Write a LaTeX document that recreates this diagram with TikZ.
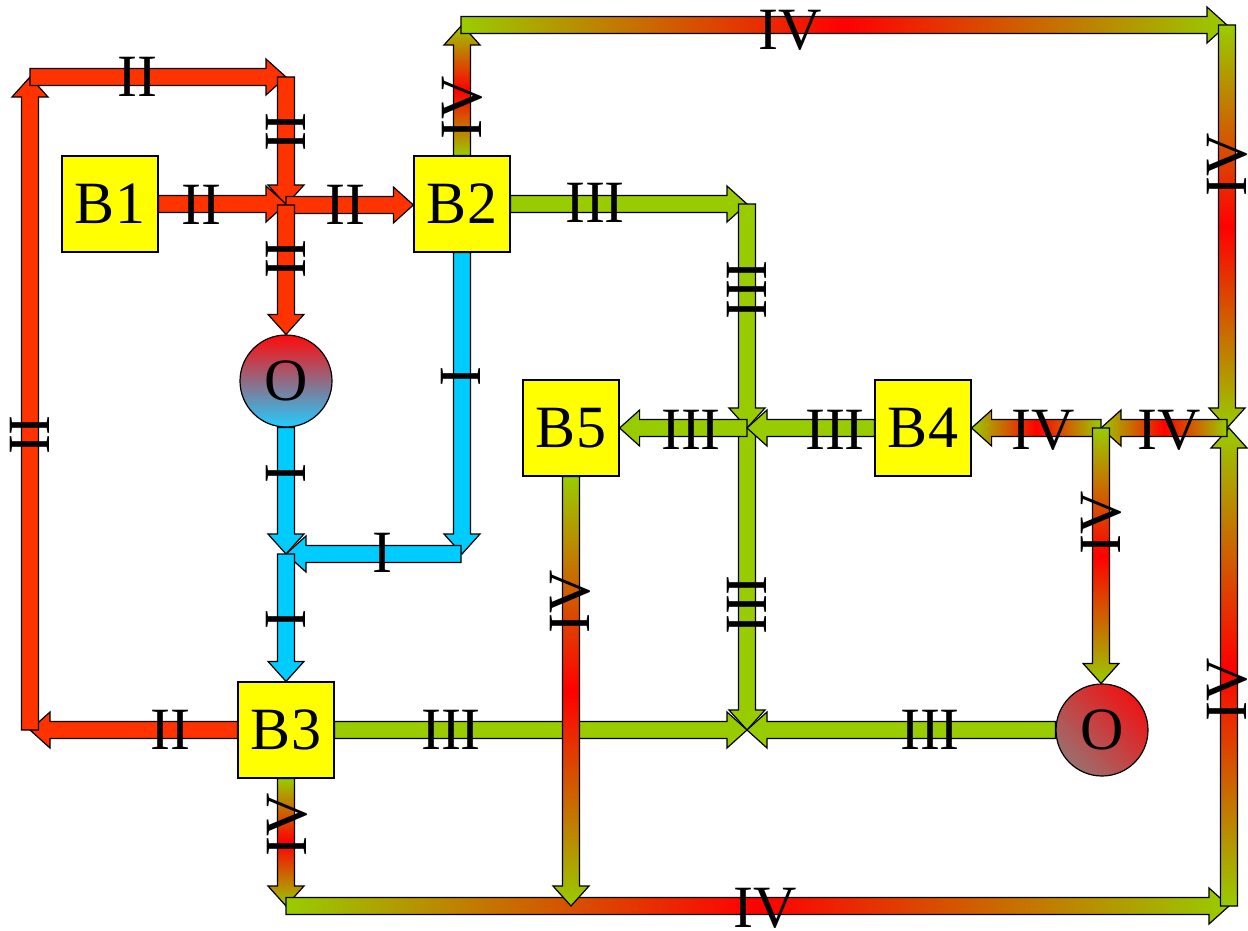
\documentclass[tikz,border=0pt]{standalone}
\usepackage{fontspec}
\newfontfamily\lab{Liberation Serif}
\usetikzlibrary{calc}
\pgfdeclarelayer{arrows}
\pgfsetlayers{arrows,main}
\definecolor{redII}{HTML}{FF3300}
\definecolor{cyanI}{HTML}{00CCFF}
\definecolor{greenIII}{HTML}{99CC00}
\definecolor{redIV}{HTML}{FF0000}
\definecolor{boxy}{HTML}{FFFF00}
\definecolor{oRed}{HTML}{EE1515}
\definecolor{oGray}{HTML}{9C6E6E}
\definecolor{oTop}{HTML}{FF0A0A}
\definecolor{oCyan}{HTML}{22CCFF}
% horizontal block arrow: style, from, to
\newcommand\harr[3]{\path[#1] let \p1=#2, \p2=#3, \p3=($(\p2)!20pt!(\p1)$) in
  (\x1,\y1+8.5pt) -- (\x3,\y1+8.5pt) -- (\x3,\y1+18pt)
  -- (\x2,\y1) -- (\x3,\y1-18pt) -- (\x3,\y1-8.5pt)
  -- (\x1,\y1-8.5pt) -- cycle;}
% vertical block arrow: style, from, to
\newcommand\varr[3]{\path[#1] let \p1=#2, \p2=#3, \p3=($(\p2)!20pt!(\p1)$) in
  (\x1+8.5pt,\y1) -- (\x1+8.5pt,\y3) -- (\x1+18pt,\y3)
  -- (\x1,\y2) -- (\x1-18pt,\y3) -- (\x1-8.5pt,\y3)
  -- (\x1-8.5pt,\y1) -- cycle;}
\begin{document}
\begin{tikzpicture}[x=1pt,y=-1pt,
  arr/.style={draw=black, line width=1.2pt, line join=miter},
  arrII/.style={arr, fill=redII},
  arrI/.style={arr, fill=cyanI},
  arrIII/.style={arr, fill=greenIII},
  arrIVh/.style={arr, left color=greenIII, right color=greenIII, middle color=redIV},
  arrIVv/.style={arr, top color=greenIII, bottom color=greenIII, middle color=redIV},
  box/.style={draw=black, line width=1.2pt, fill=boxy, minimum size=96pt, inner sep=0pt,
    font=\fontsize{60}{60}\selectfont\lab},
  onode/.style={circle, draw=black, line width=1.2pt, minimum size=92pt, inner sep=0pt,
    font=\fontsize{60}{60}\selectfont\lab},
  lbl/.style={inner sep=0pt, font=\fontsize{60}{60}\selectfont\lab},
  vlbl/.style={lbl, rotate=90}]
\useasboundingbox (0,0) rectangle (1248,931);
% blocks
\node[box] (B1) at (110,204) {B1};
\node[box] (B2) at (462,204) {B2};
\node[box] (B5) at (571,428) {B5};
\node[box] (B4) at (923,428) {B4};
\node[box] (B3) at (286,730) {B3};
\node[onode, top color=oTop, bottom color=oCyan] (O1) at (286,381) {O};
\node[onode, top color=oRed, bottom color=oGray, shading angle=-45] (O2) at (1102,730) {O};
% junctions and corners
\coordinate (jR) at (286,205);
\coordinate (tl) at (30,77);
\coordinate (tr) at (286,77);
\coordinate (bl) at (30,730);
\coordinate (jC) at (286,554);
\coordinate (cR) at (461,554);
\coordinate (jG1) at (747,204);
\coordinate (jG2) at (747,428);
\coordinate (jG3) at (747,730);
\coordinate (t1) at (461,25);
\coordinate (t2) at (1227,25);
\coordinate (r1) at (1227,428);
\coordinate (j4) at (1101,428);
\coordinate (bR) at (1229,906);
\coordinate (bL) at (286,906);
\coordinate (b5) at (570,906);
\begin{pgfonlayer}{arrows}
% II
\harr{arrII}{(B3.west)}{(bl)}
\varr{arrII}{(bl)}{(tl)}
\harr{arrII}{(tl)}{(tr)}
\varr{arrII}{(tr)}{(jR)}
\harr{arrII}{(B1.east)}{(jR)}
\harr{arrII}{(jR)}{(B2.west)}
\varr{arrII}{(jR)}{(O1.north)}
% I
\varr{arrI}{(O1.south)}{(jC)}
\varr{arrI}{(B2.south)}{(cR)}
\harr{arrI}{(cR)}{(jC)}
\varr{arrI}{(jC)}{(B3.north)}
% III
\harr{arrIII}{(B2.east)}{(jG1)}
\varr{arrIII}{(jG1)}{(jG2)}
\varr{arrIII}{(jG2)}{(jG3)}
\harr{arrIII}{(jG2)}{(B5.east)}
\harr{arrIII}{(B4.west)}{(jG2)}
\harr{arrIII}{(B3.east)}{(jG3)}
\harr{arrIII}{(O2.west)}{(jG3)}
% IV
\varr{arrIVv}{(B2.north)}{(t1)}
\harr{arrIVh}{(t1)}{(t2)}
\varr{arrIVv}{(t2)}{(r1)}
\varr{arrIVv}{(B3.south)}{(bL)}
\harr{arrIVh}{(bL)}{(bR)}
\varr{arrIVv}{(bR)}{(r1)}
\harr{arrIVh}{(r1)}{(j4)}
\harr{arrIVh}{(j4)}{(B4.east)}
\varr{arrIVv}{(j4)}{(O2.north)}
\varr{arrIVv}{(B5.south)}{(b5)}
\end{pgfonlayer}
% labels II
\node[lbl] (l1) at (137,77) {II};
\node[vlbl] (l2) at (286,132) {II};
\node[lbl] (l3) at (201,205) {II};
\node[vlbl] (l4) at (286,259) {II};
\node[lbl] (l5) at (345,205) {II};
\node[lbl] (l6) at (170,730) {II};
\node[vlbl] (l7) at (30,435) {II};
% labels I
\node[vlbl] (l8) at (286,474) {I};
\node[vlbl] (l9) at (461,377) {I};
\node[lbl] (l10) at (382,553) {I};
\node[vlbl] (l11) at (286,620) {I};
% labels III
\node[lbl] (l12) at (595,203) {III};
\node[vlbl] (l13) at (747,290) {III};
\node[lbl] (l14) at (835,430) {III};
\node[lbl] (l15) at (691,430) {III};
\node[vlbl] (l16) at (747,605) {III};
\node[lbl] (l17) at (451,730) {III};
\node[lbl] (l18) at (930,730) {III};
% labels IV
\node[vlbl] (l19) at (462,108) {IV};
\node[lbl] (l20) at (790,30) {IV};
\node[vlbl] (l21) at (1227,165) {IV};
\node[lbl] (l22) at (1169,430) {IV};
\node[lbl] (l23) at (1043,430) {IV};
\node[vlbl] (l24) at (1101,523) {IV};
\node[vlbl] (l25) at (1227,690) {IV};
\node[lbl] (l26) at (765,908) {IV};
\node[vlbl] (l27) at (287,825) {IV};
\node[vlbl] (l28) at (570,602) {IV};
\end{tikzpicture}
\end{document}
